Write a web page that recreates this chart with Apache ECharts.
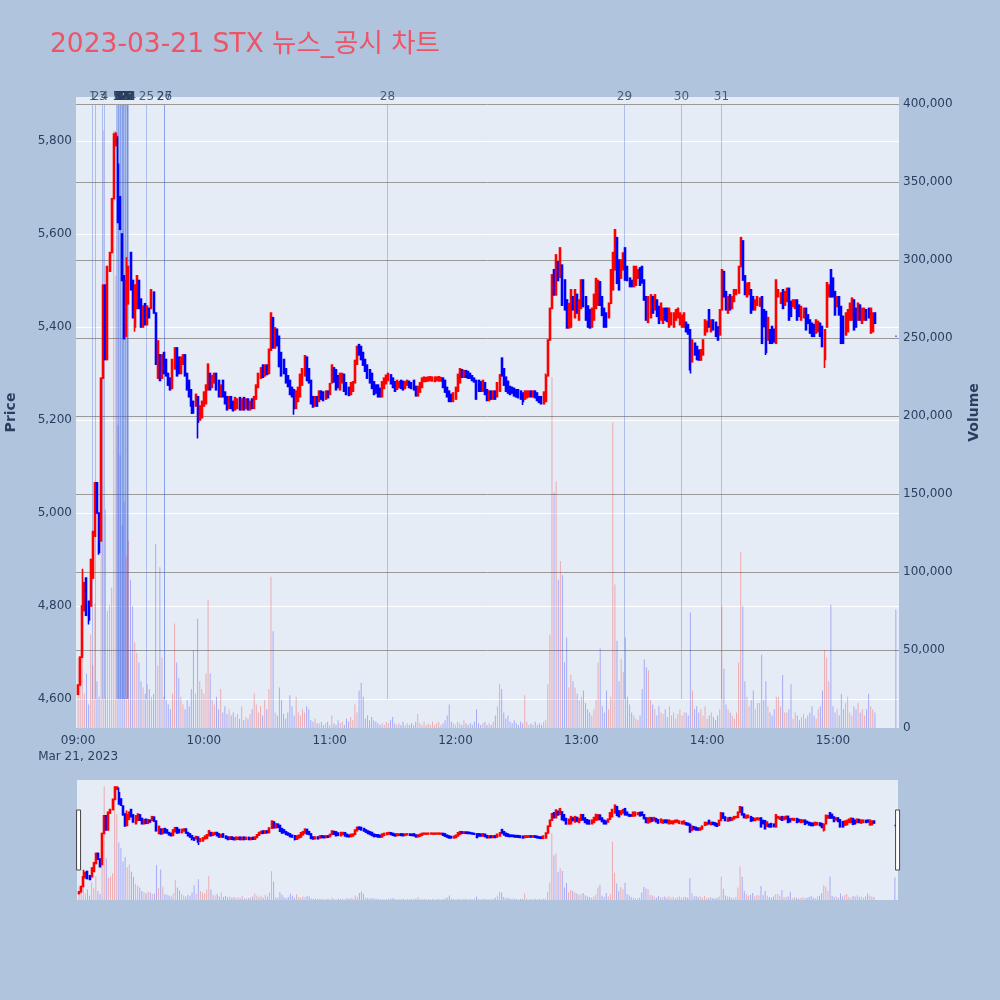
<!DOCTYPE html>
<html>
<head>
<meta charset="utf-8">
<script src="https://cdn.jsdelivr.net/npm/echarts@6/dist/echarts.min.js"></script>
<style>
html,body{margin:0;padding:0;background:#B0C4DE;}
#chart{width:1000px;height:1000px;}
</style>
</head>
<body>
<div id="chart"></div>
<script>
// ---- data (minute offsets from 09:00) ----
const titleText = '2023-03-21 STX 뉴스_공시 차트';
const xTickLabels = ['09:00','10:00','11:00','12:00','13:00','14:00','15:00'];
const dateLabel = 'Mar 21, 2023';

const opens = [
4610,4630,4690,4790,4860,4810,4800,4860,4950,5065,
5000,4940,5290,5490,5330,5520,5560,5676,5790,5750,
5680,5600,5510,5380,5450,5560,5500,5400,5440,5500,
5460,5400,5450,5405,5440,5440,5475,5430,5290,5340,
5290,5345,5330,5300,5290,5268,5310,5355,5335,5300,
5320,5340,5300,5285,5265,5240,5230,5250,5200,5205,
5230,5235,5265,5300,5270,5280,5300,5285,5250,5285,
5260,5250,5225,5250,5240,5222,5225,5248,5222,5248,
5225,5245,5222,5245,5225,5245,5270,5290,5318,5295,
5318,5300,5350,5420,5355,5395,5380,5345,5330,5310,
5295,5285,5270,5265,5225,5240,5250,5275,5295,5335,
5310,5285,5250,5230,5250,5240,5262,5260,5245,5262,
5255,5280,5312,5308,5295,5265,5280,5298,5280,5270,
5255,5262,5280,5320,5362,5358,5345,5330,5318,5308,
5300,5282,5275,5275,5268,5250,5268,5278,5285,5297,
5290,5282,5266,5270,5285,5283,5268,5275,5283,5280,
5285,5272,5252,5260,5270,5283,5283,5284,5285,5284,
5283,5285,5284,5284,5290,5285,5270,5262,5255,5240,
5245,5262,5280,5308,5292,5306,5304,5300,5295,5290,
5285,5285,5282,5262,5280,5265,5242,5262,5245,5262,
5250,5262,5333,5310,5292,5283,5272,5270,5268,5265,
5265,5262,5258,5245,5248,5250,5262,5250,5262,5258,
5250,5250,5235,5240,5295,5372,5440,5523,5469,5540,
5507,5533,5501,5458,5398,5400,5465,5420,5470,5415,
5440,5501,5465,5445,5437,5400,5415,5440,5447,5497,
5465,5440,5430,5420,5451,5480,5523,5592,5544,5505,
5523,5570,5530,5505,5500,5487,5490,5505,5527,5530,
5501,5465,5410,5420,5465,5437,5458,5444,5415,5408,
5440,5440,5400,5405,5400,5415,5420,5405,5400,5400,
5410,5405,5394,5325,5365,5358,5350,5329,5340,5383,
5390,5437,5390,5415,5410,5400,5383,5437,5519,5476,
5430,5469,5440,5455,5470,5473,5530,5585,5510,5465,
5470,5480,5465,5437,5447,5445,5465,5437,5433,5372,
5394,5401,5395,5365,5465,5451,5480,5447,5455,5483,
5455,5444,5440,5458,5447,5415,5420,5440,5426,5415,
5408,5405,5387,5390,5408,5401,5330,5400,5465,5523,
5505,5476,5444,5465,5444,5423,5383,5390,5415,5415,
5458,5440,5415,5447,5408,5415,5437,5440,5387,5390,5430
];

const closes = [
4630,4690,4800,4850,4780,4770,4900,4960,5065,5000,
4915,5290,5490,5330,5530,5560,5676,5815,5815,5625,
5610,5500,5375,5500,5530,5480,5420,5490,5510,5440,
5400,5445,5405,5445,5420,5480,5430,5320,5370,5285,
5340,5300,5295,5275,5265,5330,5355,5295,5300,5335,
5340,5295,5265,5250,5230,5215,5255,5195,5230,5240,
5260,5275,5320,5265,5295,5300,5265,5250,5275,5250,
5235,5222,5250,5225,5220,5248,5245,5222,5245,5222,
5245,5222,5240,5225,5250,5275,5300,5312,5292,5318,
5298,5352,5430,5355,5398,5360,5315,5295,5300,5280,
5272,5255,5250,5225,5262,5270,5298,5310,5338,5285,
5280,5235,5228,5250,5230,5262,5245,5242,5262,5248,
5278,5318,5282,5265,5270,5300,5300,5262,5255,5253,
5280,5282,5328,5358,5340,5330,5318,5305,5290,5280,
5268,5255,5258,5250,5250,5282,5290,5296,5300,5278,
5270,5262,5285,5282,5268,5265,5282,5285,5270,5268,
5265,5252,5272,5280,5290,5292,5291,5292,5293,5292,
5292,5292,5293,5291,5270,5260,5250,5240,5240,5258,
5270,5298,5310,5292,5306,5292,5290,5290,5285,5282,
5245,5262,5262,5285,5255,5242,5262,5245,5262,5245,
5280,5297,5295,5275,5262,5258,5255,5258,5252,5250,
5248,5245,5240,5262,5262,5262,5250,5262,5248,5242,
5238,5235,5260,5295,5372,5440,5512,5469,5555,5500,
5570,5447,5437,5398,5450,5480,5437,5480,5430,5458,
5501,5444,5415,5400,5398,5440,5470,5504,5500,5447,
5425,5400,5400,5451,5523,5560,5609,5494,5480,5544,
5559,5501,5500,5487,5487,5530,5530,5523,5490,5495,
5458,5415,5465,5469,5430,5469,5423,5408,5451,5440,
5415,5412,5440,5430,5430,5437,5440,5430,5425,5430,
5390,5385,5308,5372,5340,5330,5329,5351,5372,5415,
5412,5400,5415,5394,5380,5372,5437,5523,5465,5437,
5465,5437,5465,5480,5480,5530,5592,5501,5470,5494,
5495,5430,5437,5458,5465,5462,5365,5401,5345,5420,
5365,5365,5368,5501,5480,5473,5440,5476,5483,5415,
5423,5458,5458,5415,5423,5444,5440,5394,5408,5387,
5380,5380,5415,5412,5380,5358,5394,5495,5490,5465,
5465,5426,5465,5426,5365,5365,5430,5437,5451,5462,
5394,5400,5451,5415,5440,5440,5415,5420,5440,5430,5408
];

// extra wick extremes: [minute, price]
const lowWicks = [[5,4760],[10,4910],[27,5390],[54,5213],[57,5160],[103,5211],[212,5232],[292,5300],[328,5340],[356,5312]];
const highWicks = [[2,4880],[18,5820],[19,5810],[20,5680],[23,5550],[25,5560],[223,5300]];

const volumes = [
45000,30000,60000,22000,35000,15000,60000,40000,80000,30000,
20000,120000,383000,140000,75000,79000,90000,383000,290000,194000,
175000,130000,145000,110000,120000,95000,78000,55000,48000,42000,
30000,26000,22000,28000,25000,20000,22000,118000,40000,103000,
45000,20000,18000,15000,12000,22000,67000,42000,32000,20000,
15000,12000,18000,14000,25000,50000,22000,70000,30000,25000,
22000,35000,82000,35000,18000,15000,20000,12000,25000,10000,
14000,9000,12000,8000,10000,7000,9000,6000,14000,5000,
7000,6000,9000,12000,22000,15000,10000,14000,8000,18000,
12000,25000,97000,62000,10000,8000,26000,18000,9000,6000,
10000,21000,14000,8000,20000,10000,8000,12000,10000,14000,
12000,5000,4000,6000,3000,3000,4000,2000,3000,4000,
2000,8000,3000,2000,5000,3000,4000,2000,6000,4000,
7000,5000,15000,10000,24000,29000,20000,6000,8000,5000,
7000,5000,4000,3000,2000,3000,2000,4000,3000,5000,
7000,3000,2000,3000,2000,4000,2000,3000,2000,3000,
2000,4000,9000,3000,2000,4000,2000,3000,2000,4000,
2000,3000,4000,2000,3000,5000,8000,15000,4000,3000,
2000,4000,3000,2000,5000,3000,2000,3000,2000,4000,
12000,3000,2000,3000,4000,2000,3000,2000,4000,8000,
14000,28000,25000,10000,6000,8000,4000,3000,5000,3000,
2000,4000,3000,21000,4000,2000,3000,2000,4000,2000,
3000,2000,4000,5000,28000,60000,225000,151000,158000,95000,
107000,98000,42000,58000,26000,34000,30000,26000,22000,18000,
20000,24000,16000,12000,10000,8000,12000,18000,42000,51000,
14000,10000,24000,12000,20000,196000,92000,56000,30000,44000,
36000,58000,20000,15000,10000,8000,6000,5000,8000,25000,
44000,39000,37000,18000,15000,12000,8000,14000,10000,9000,
12000,7000,14000,8000,10000,6000,9000,12000,8000,10000,
10000,8000,74000,24000,12000,14000,10000,12000,8000,14000,
6000,8000,10000,7000,5000,8000,12000,78000,38000,15000,
12000,10000,8000,6000,10000,42000,113000,78000,30000,20000,
14000,18000,24000,12000,16000,16000,47000,18000,30000,14000,
10000,8000,12000,20000,20000,14000,34000,10000,10000,12000,
28000,6000,10000,8000,5000,7000,9000,6000,8000,10000,
14000,8000,6000,12000,14000,24000,50000,45000,30000,79000,
14000,10000,12000,8000,22000,12000,16000,20000,10000,8000,
14000,12000,16000,10000,12000,8000,12000,22000,14000,12000,10000
];

// closing auction at 15:30
const closeMinute = 390;
const closePrice = 5380;
const closeVolume = 76000;

// news / disclosure markers (minute of day offset)
const newsMinutes = [6.5,8.1,11.3,12.5,18.3,18.6,18.9,19.2,19.5,19.8,20.1,20.4,20.7,21.0,21.3,21.6,21.9,22.2,22.5,22.8,23.1,23.3,23.5,23.7,32.4,40.9,41.0,147.3,260.3,287.5,306.6];
const newsLabels = ['1','2','3','4','5','6','7','8','9','10','11','12','13','14','15','16','17','18','19','20','21','22','23','24','25','26','27','28','29','30','31'];

// ---- build series data ----
const candleData = opens.map((o, i) => {
  const c = closes[i];
  let lo = Math.min(o, c), hi = Math.max(o, c);
  lowWicks.forEach(w => { if (w[0] === i) lo = Math.min(lo, w[1]); });
  highWicks.forEach(w => { if (w[0] === i) hi = Math.max(hi, w[1]); });
  return [i, o, c, lo, hi];
});
candleData.push([closeMinute, closePrice, closePrice, closePrice, closePrice]);

const volData = volumes.map((v, i) => [i, v, closes[i] > opens[i] ? 1 : -1]);
volData.push([closeMinute, closeVolume, -1]);

const newsData = newsMinutes.map(m => [m, 4600]);

// ---- styles ----
const FONT = '"DejaVu Sans", "Noto Sans CJK KR", sans-serif';
const AXIS_TEXT = '#2a3f5f';
const UP = '#FF0000', DOWN = '#0000FF';
const UP_VOL = 'rgba(255,0,0,0.28)', DOWN_VOL = 'rgba(0,0,255,0.28)';
const PRICE_MIN = 4537.6, PRICE_MAX = 5894.6;
const VOL_MAX = 404487;
const X_MIN = -1, X_MAX = 391.5;

const candleStyle = {
  color: UP, color0: DOWN, borderColor: UP, borderColor0: DOWN,
  borderColorDoji: DOWN, borderWidth: 1.6
};

const chart = echarts.init(document.getElementById('chart'), null, {renderer: 'canvas'});
chart.setOption({
  animation: false,
  backgroundColor: '#B0C4DE',
  title: {
    text: titleText, left: 45, top: 27,
    textStyle: {color: '#EF5366', fontSize: 26.5, fontWeight: 'normal', fontFamily: FONT}
  },
  grid: [
    {left: 76, top: 97, width: 823, height: 631, show: true, backgroundColor: '#E5ECF6', borderWidth: 0,
     containLabel: false, outerBoundsMode: 'none'},
    {left: 77, top: 780, width: 821, height: 120, show: true, backgroundColor: '#E5ECF6', borderWidth: 0,
     containLabel: false, outerBoundsMode: 'none'}
  ],
  xAxis: [
    {
      type: 'value', gridIndex: 0, min: X_MIN, max: X_MAX,
      minInterval: 60, maxInterval: 60,
      axisLine: {show: false}, axisTick: {show: false}, splitLine: {show: false},
      axisLabel: {
        color: AXIS_TEXT, fontSize: 12, fontFamily: FONT, margin: 5, lineHeight: 16,
        formatter: v => {
          if (v % 60 !== 0 || v < 0) return '';
          const idx = v / 60;
          if (idx >= xTickLabels.length) return '';
          return idx === 0 ? xTickLabels[0] + '\n' + dateLabel : xTickLabels[idx];
        }
      }
    },
    {
      type: 'value', gridIndex: 1, min: X_MIN, max: X_MAX, show: false
    }
  ],
  yAxis: [
    {
      type: 'value', gridIndex: 0, position: 'left', min: PRICE_MIN, max: PRICE_MAX,
      minInterval: 200, maxInterval: 200,
      name: 'Price', nameLocation: 'middle', nameGap: 58, nameRotate: 90,
      nameTextStyle: {color: AXIS_TEXT, fontSize: 14, fontWeight: 'bold', fontFamily: FONT},
      axisLine: {show: false}, axisTick: {show: false},
      splitLine: {show: true, showMinLine: false, showMaxLine: false, lineStyle: {color: '#FFFFFF', width: 1}},
      axisLabel: {
        color: AXIS_TEXT, fontSize: 12, fontFamily: FONT, margin: 4,
        formatter: v => (v % 200 === 0 ? v.toLocaleString('en-US') : '')
      }
    },
    {
      type: 'value', gridIndex: 0, position: 'right', min: 0, max: VOL_MAX,
      minInterval: 50000, maxInterval: 50000,
      name: 'Volume', nameLocation: 'middle', nameGap: 68, nameRotate: 90,
      nameTextStyle: {color: AXIS_TEXT, fontSize: 14, fontWeight: 'bold', fontFamily: FONT},
      axisLine: {show: false}, axisTick: {show: false},
      splitLine: {show: true, showMinLine: false, showMaxLine: false, lineStyle: {color: '#999999', width: 1}},
      axisLabel: {
        color: AXIS_TEXT, fontSize: 12, fontFamily: FONT, margin: 4,
        formatter: v => (v % 50000 === 0 ? v.toLocaleString('en-US') : '')
      }
    },
    {type: 'value', gridIndex: 1, min: PRICE_MIN, max: PRICE_MAX, show: false},
    {type: 'value', gridIndex: 1, min: 0, max: VOL_MAX, show: false}
  ],
  dataZoom: [{
    type: 'slider', xAxisIndex: 0, filterMode: 'none', start: 0, end: 100,
    left: 77, top: 780, width: 821, height: 120,
    backgroundColor: 'rgba(0,0,0,0)', borderColor: 'rgba(0,0,0,0)',
    fillerColor: 'rgba(0,0,0,0)',
    showDataShadow: false, showDetail: false, brushSelect: false,
    moveHandleSize: 0, moveHandleStyle: {opacity: 0},
    dataBackground: {lineStyle: {opacity: 0}, areaStyle: {opacity: 0}},
    selectedDataBackground: {lineStyle: {opacity: 0}, areaStyle: {opacity: 0}},
    handleIcon: 'path://M0,0 L4,0 L4,60 L0,60 Z',
    handleSize: '50%',
    handleStyle: {color: '#FFFFFF', borderColor: '#444444', borderWidth: 1},
    emphasis: {handleStyle: {color: '#FFFFFF', borderColor: '#444444', borderWidth: 1}}
  }],
  series: [
    {
      name: 'Volume', type: 'bar', xAxisIndex: 0, yAxisIndex: 1,
      data: volData, encode: {x: 0, y: 1}, barWidth: 1, z: 2,
      itemStyle: {color: p => (p.value[2] > 0 ? UP_VOL : DOWN_VOL)}
    },
    {
      name: 'News', type: 'custom', xAxisIndex: 0, yAxisIndex: 0,
      data: newsData, encode: {x: 0, y: 1}, z: 3, silent: true,
      renderItem: (params, api) => {
        const p = api.coord([api.value(0), api.value(1)]);
        const x = Math.round(p[0]) + 0.5;
        const top = params.coordSys.y;
        return {
          type: 'group',
          children: [
            {type: 'line', shape: {x1: x, y1: p[1], x2: x, y2: top + 8},
             style: {stroke: 'rgba(65,105,225,0.35)', lineWidth: 1}},
            {type: 'text', x: x, y: top,
             style: {text: newsLabels[params.dataIndex], align: 'center', verticalAlign: 'middle',
                     fill: 'rgba(42,63,95,0.8)', font: '12px "DejaVu Sans"'}}
          ]
        };
      }
    },
    {
      name: 'Price', type: 'candlestick', xAxisIndex: 0, yAxisIndex: 0,
      data: candleData, encode: {x: 0, y: [1, 2, 3, 4]},
      barWidth: 1.5, z: 4, itemStyle: candleStyle
    },
    {
      name: 'VolumeMini', type: 'bar', xAxisIndex: 1, yAxisIndex: 3,
      data: volData, encode: {x: 0, y: 1}, barWidth: 1, z: 2, silent: true,
      itemStyle: {color: p => (p.value[2] > 0 ? UP_VOL : DOWN_VOL)}
    },
    {
      name: 'PriceMini', type: 'candlestick', xAxisIndex: 1, yAxisIndex: 2,
      data: candleData, encode: {x: 0, y: [1, 2, 3, 4]},
      barWidth: 1.5, z: 4, silent: true, itemStyle: candleStyle
    }
  ]
});
</script>
</body>
</html>
